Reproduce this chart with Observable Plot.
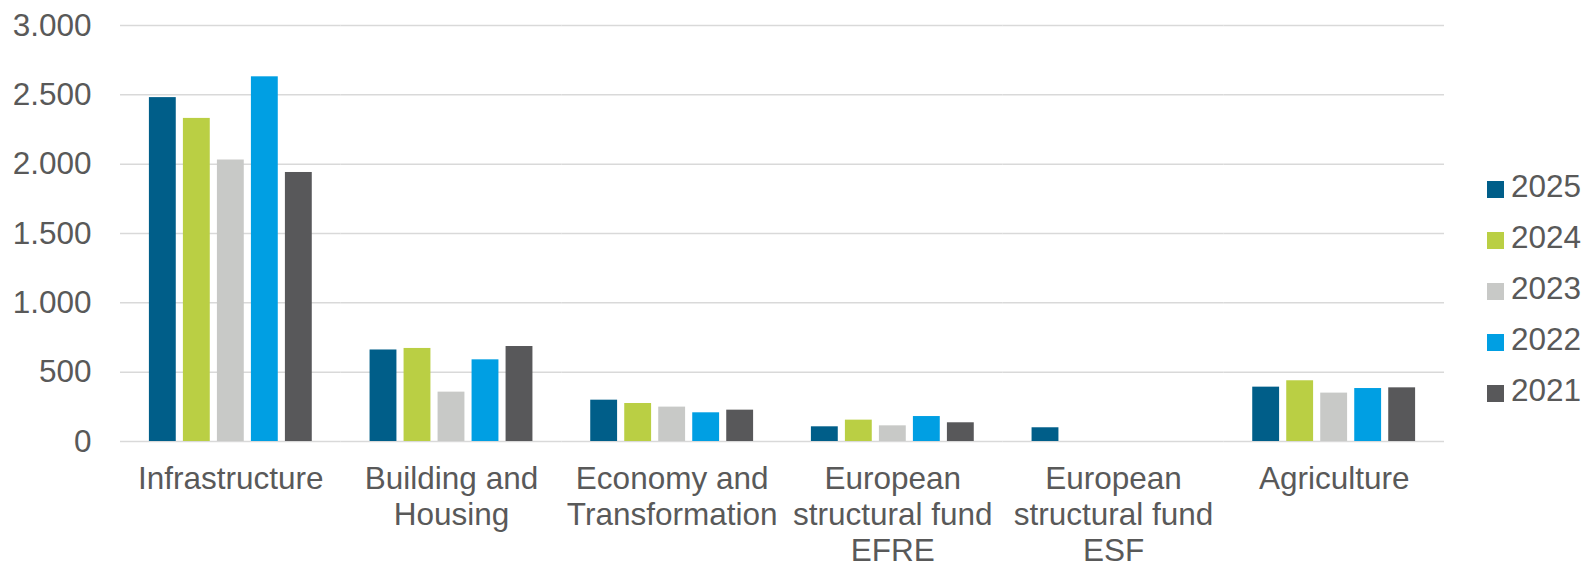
<!DOCTYPE html>
<html>
<head>
<meta charset="utf-8">
<script src="https://cdn.jsdelivr.net/npm/d3@7"></script>
<script src="https://cdn.jsdelivr.net/npm/@observablehq/plot@0.6"></script>
<style>
  html, body { margin: 0; padding: 0; background: #fff; }
  #wrap { position: relative; width: 1586px; height: 566px; font-family: "Liberation Sans", Arial, sans-serif; }
  #legend { position: absolute; left: 1487px; top: 161px; color: #595959; font-size: 31.5px; }
  .item { display: flex; align-items: center; height: 51.1px; }
  .sw { width: 17px; height: 17px; margin-right: 7px; margin-top: 5px; }
</style>
</head>
<body>
<div id="wrap"></div>
<script>
const categories = ["Infrastructure", "Building and Housing", "Economy and Transformation", "European structural fund EFRE", "European structural fund ESF", "Agriculture"];
const categoryLabels = ["Infrastructure", "Building and\nHousing", "Economy and\nTransformation", "European\nstructural fund\nEFRE", "European\nstructural fund\nESF", "Agriculture"];
const years = ["2025", "2024", "2023", "2022", "2021"];
const colors = ["#005e89", "#bacf44", "#c8c9c7", "#009fe3", "#58585a"];
const v2025 = [2480, 660, 298, 106, 99, 392];
const v2024 = [2330, 671, 274, 154, null, 438];
const v2023 = [2030, 356, 248, 113, null, 349];
const v2022 = [2630, 589, 207, 180, null, 382];
const v2021 = [1940, 685, 226, 135, null, 387];
const yTicks = [0, 500, 1000, 1500, 2000, 2500, 3000];

const series = {"2025": v2025, "2024": v2024, "2023": v2023, "2022": v2022, "2021": v2021};
const data = [];
categories.forEach((c, i) => {
  years.forEach(y => {
    const v = series[y][i];
    if (v != null) data.push({category: c, year: y, value: v});
  });
});
const labelOf = new Map(categories.map((c, i) => [c, categoryLabels[i]]));
const fmt = d3.formatLocale({decimal: ",", thousands: ".", grouping: [3], currency: ["", ""]}).format(",");

const chart = Plot.plot({
  width: 1586,
  height: 566,
  marginLeft: 120,
  marginRight: 142,
  marginTop: 25,
  marginBottom: 125,
  style: {fontFamily: "'Liberation Sans', Arial, sans-serif", fontSize: "31.5px", color: "#595959", background: "#fff", overflow: "visible"},
  fx: {domain: categories, padding: 0, round: false, label: null},
  x: {domain: years, paddingInner: 0.21, paddingOuter: 0.85, round: false, axis: null},
  y: {domain: [0, 3000], label: null},
  color: {domain: years, range: colors},
  marks: [
    Plot.gridY(yTicks, {stroke: "#d9d9d9", strokeOpacity: 1, strokeWidth: 1.5}),
    Plot.barY(data, {fx: "category", x: "year", y: "value", fill: "year"}),
    Plot.axisY(yTicks, {tickSize: 0, tickPadding: 29, tickFormat: fmt, label: null}),
    Plot.axisFx({anchor: "bottom", tickSize: 0, tickPadding: 22, tickFormat: d => labelOf.get(d), lineHeight: 1.14, label: null})
  ]
});

const wrap = document.getElementById("wrap");
wrap.appendChild(chart);
const legend = document.createElement("div");
legend.id = "legend";
years.forEach((y, i) => {
  const item = document.createElement("div");
  item.className = "item";
  const sw = document.createElement("div");
  sw.className = "sw";
  sw.style.background = colors[i];
  const t = document.createElement("span");
  t.textContent = y;
  item.appendChild(sw);
  item.appendChild(t);
  legend.appendChild(item);
});
wrap.appendChild(legend);
</script>
</body>
</html>
